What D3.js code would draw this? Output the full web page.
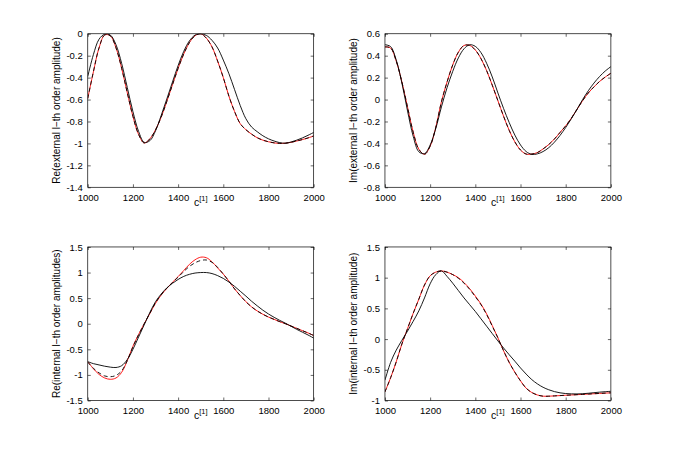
<!DOCTYPE html>
<html>
<head>
<meta charset="utf-8">
<script src="https://cdn.jsdelivr.net/npm/d3@7"></script>
<style>
  body { margin: 0; background: #fff; }
  svg { display: block; }
  text { font-family: "Liberation Sans", Arial, Helvetica, sans-serif; fill: #000; }
</style>
</head>
<body>
<svg id="chart" width="675" height="450"></svg>
<script>
// x grid shared by every curve
const cValues = [1000, 1025, 1050, 1075, 1100, 1125, 1150, 1175, 1200, 1225,
                 1250, 1275, 1300, 1325, 1350, 1375, 1400, 1425, 1450, 1475,
                 1500, 1525, 1550, 1575, 1600, 1625, 1650, 1675, 1700, 1725,
                 1750, 1775, 1800, 1825, 1850, 1875, 1900, 1925, 1950, 1975, 2000];
const xTicks = [1000, 1200, 1400, 1600, 1800, 2000];

// Re(external)
const reExtBlack = [-0.39, -0.19, -0.05, -0.004, -0.012, -0.10, -0.27, -0.49, -0.71, -0.89,
                    -0.99, -0.975, -0.885, -0.745, -0.595, -0.44, -0.29, -0.16, -0.065, -0.012,
                    -0.001, -0.015, -0.06, -0.13, -0.24, -0.365, -0.51, -0.655, -0.775, -0.85,
                    -0.893, -0.93, -0.958, -0.978, -0.993, -0.998, -0.987, -0.97, -0.95, -0.926, -0.9];
const reExtRed = [-0.59, -0.347, -0.129, -0.011, -0.019, -0.128, -0.314, -0.538, -0.753, -0.918,
                  -0.996, -0.958, -0.876, -0.76, -0.617, -0.465, -0.316, -0.184, -0.081, -0.018,
                  0, -0.04, -0.12, -0.25, -0.40, -0.57, -0.71, -0.82, -0.875, -0.915,
                  -0.948, -0.97, -0.985, -0.995, -1.0, -0.998, -0.99, -0.978, -0.965, -0.95, -0.932];
const reExtDash = [-0.59, -0.347, -0.129, -0.011, -0.019, -0.128, -0.314, -0.538, -0.753, -0.918,
                   -0.996, -0.958, -0.876, -0.76, -0.617, -0.465, -0.316, -0.184, -0.081, -0.018,
                   0, -0.04, -0.12, -0.25, -0.40, -0.57, -0.71, -0.82, -0.875, -0.915,
                   -0.948, -0.97, -0.985, -0.995, -1.0, -0.998, -0.99, -0.978, -0.965, -0.95, -0.932];
const reExtTicks = [-1.4, -1.2, -1, -0.8, -0.6, -0.4, -0.2, 0];

// Im(external)
const imExtBlack = [0.50, 0.483, 0.36, 0.151, -0.104, -0.335, -0.476, -0.493, -0.415, -0.264,
                    -0.067, 0.109, 0.257, 0.380, 0.463, 0.4995, 0.485, 0.428, 0.331, 0.206,
                    0.06, -0.081, -0.21, -0.324, -0.414, -0.474, -0.4996, -0.495, -0.474, -0.439,
                    -0.389, -0.327, -0.255, -0.175, -0.089, 0.0, 0.08, 0.15, 0.21, 0.26, 0.30];
const imExtRed = [0.48, 0.47, 0.35, 0.16, -0.069, -0.297, -0.453, -0.499, -0.426, -0.253,
                  -0.02, 0.161, 0.316, 0.432, 0.493, 0.494, 0.452, 0.373, 0.264, 0.131,
                  -0.011, -0.152, -0.281, -0.386, -0.46, -0.497, -0.497, -0.483, -0.45, -0.41,
                  -0.36, -0.30, -0.24, -0.17, -0.09, -0.01, 0.06, 0.115, 0.165, 0.205, 0.24];
const imExtDash = [0.48, 0.47, 0.35, 0.16, -0.069, -0.297, -0.453, -0.499, -0.426, -0.253,
                   -0.02, 0.161, 0.316, 0.432, 0.493, 0.494, 0.452, 0.373, 0.264, 0.131,
                   -0.011, -0.152, -0.281, -0.386, -0.46, -0.497, -0.497, -0.483, -0.45, -0.41,
                   -0.36, -0.30, -0.24, -0.17, -0.09, -0.01, 0.06, 0.115, 0.165, 0.205, 0.24];
const imExtTicks = [-0.8, -0.6, -0.4, -0.2, 0, 0.2, 0.4, 0.6];

// Re(internal)
const reIntBlack = [-0.74, -0.78, -0.805, -0.83, -0.848, -0.855, -0.82, -0.70, -0.50, -0.26,
                    -0.02, 0.22, 0.43, 0.58, 0.70, 0.79, 0.865, 0.925, 0.965, 0.99,
                    1.0, 1.0, 0.98, 0.94, 0.885, 0.815, 0.73, 0.635, 0.54, 0.44,
                    0.35, 0.265, 0.19, 0.125, 0.065, 0.01, -0.05, -0.11, -0.165, -0.22, -0.28];
const reIntRed = [-0.74, -0.88, -0.99, -1.06, -1.086, -1.06, -0.95, -0.72, -0.44, -0.21,
                  0.0, 0.20, 0.40, 0.56, 0.69, 0.81, 0.92, 1.04, 1.16, 1.25,
                  1.30, 1.29, 1.21, 1.09, 0.97, 0.83, 0.68, 0.55, 0.43, 0.33,
                  0.25, 0.185, 0.13, 0.085, 0.04, 0.0, -0.045, -0.09, -0.135, -0.18, -0.23];
const reIntDash = [-0.75, -0.87, -0.96, -1.02, -1.035, -1.01, -0.92, -0.72, -0.45, -0.215,
                   0.0, 0.205, 0.41, 0.565, 0.695, 0.805, 0.91, 1.02, 1.12, 1.19,
                   1.235, 1.245, 1.20, 1.10, 0.97, 0.83, 0.68, 0.55, 0.43, 0.33,
                   0.25, 0.185, 0.13, 0.085, 0.04, 0.0, -0.045, -0.09, -0.135, -0.18, -0.23];
const reIntTicks = [-1.5, -1, -0.5, 0, 0.5, 1, 1.5];

// Im(internal)
const imIntBlack = [-0.67, -0.38, -0.18, -0.02, 0.13, 0.29, 0.46, 0.67, 0.90, 1.05,
                    1.11, 1.02, 0.91, 0.79, 0.67, 0.56, 0.45, 0.33, 0.21, 0.09,
                    -0.03, -0.145, -0.255, -0.36, -0.47, -0.57, -0.66, -0.73, -0.785, -0.825,
                    -0.855, -0.875, -0.887, -0.892, -0.893, -0.89, -0.882, -0.873, -0.864, -0.857, -0.85];
const imIntRed = [-0.86, -0.63, -0.37, -0.08, 0.17, 0.42, 0.65, 0.88, 1.03, 1.09,
                  1.11, 1.09, 1.05, 1.0, 0.92, 0.82, 0.70, 0.57, 0.41, 0.22,
                  0.02, -0.19, -0.38, -0.54, -0.68, -0.80, -0.87, -0.91, -0.93, -0.93,
                  -0.925, -0.92, -0.915, -0.91, -0.905, -0.90, -0.895, -0.89, -0.885, -0.88, -0.875];
const imIntDash = [-0.86, -0.63, -0.37, -0.08, 0.17, 0.42, 0.65, 0.88, 1.03, 1.09,
                   1.11, 1.09, 1.05, 0.99, 0.91, 0.81, 0.69, 0.56, 0.40, 0.21,
                   0.02, -0.19, -0.38, -0.54, -0.68, -0.80, -0.87, -0.91, -0.93, -0.93,
                   -0.925, -0.92, -0.915, -0.91, -0.905, -0.90, -0.895, -0.89, -0.885, -0.88, -0.875];
const imIntTicks = [-1, -0.5, 0, 0.5, 1, 1.5];

const W = 675, H = 450;
const svg = d3.select("#chart");

// matlab style subplot boxes
const colLeft = [0.13 * W, 0.5703 * W];
const rowTop = [H * (1 - 0.5838 - 0.3412), H * (1 - 0.11 - 0.3412)];
const pw = 0.3347 * W, ph = 0.3412 * H;

const panels = [
    {col: 0, row: 0, label: "Re(external l\u2212th order amplitude)", yDomain: [-1.4, 0], yTicks: reExtTicks,
     black: reExtBlack, red: reExtRed, dash: reExtDash},
    {col: 1, row: 0, label: "Im(external l\u2212th order amplitude)", yDomain: [-0.8, 0.6], yTicks: imExtTicks,
     black: imExtBlack, red: imExtRed, dash: imExtDash},
    {col: 0, row: 1, label: "Re(internal l\u2212th order amplitudes)", yDomain: [-1.5, 1.5], yTicks: reIntTicks,
     black: reIntBlack, red: reIntRed, dash: reIntDash},
    {col: 1, row: 1, label: "Im(internal l\u2212th order amplitude)", yDomain: [-1, 1.5], yTicks: imIntTicks,
     black: imIntBlack, red: imIntRed, dash: imIntDash}
];

// matlab prints tick labels with a plain hyphen
const fmt = d => String(+d.toFixed(2));

panels.forEach((p, k) => {
    const g = svg.append("g")
        .attr("transform", `translate(${colLeft[p.col]},${rowTop[p.row]})`);

    const x = d3.scaleLinear().domain([1000, 2000]).range([0, pw]);
    const y = d3.scaleLinear().domain(p.yDomain).range([ph, 0]);

    g.append("clipPath").attr("id", "clip" + k)
        .append("rect").attr("width", pw).attr("height", ph);

    const line = d3.line()
        .x((d, i) => x(cValues[i]))
        .y(d => y(d))
        .curve(d3.curveCatmullRom.alpha(0.5));

    const plot = g.append("g").attr("clip-path", `url(#clip${k})`);
    plot.append("path").datum(p.red)
        .attr("d", line).attr("fill", "none")
        .attr("stroke", "#ff0000").attr("stroke-width", 0.9);
    plot.append("path").datum(p.dash)
        .attr("d", line).attr("fill", "none")
        .attr("stroke", "#000").attr("stroke-width", 0.9)
        .attr("stroke-dasharray", "4,3");
    plot.append("path").datum(p.black)
        .attr("d", line).attr("fill", "none")
        .attr("stroke", "#000").attr("stroke-width", 0.9);

    // axes, ticks pointing inward
    const ax = [
        {a: d3.axisBottom(x).tickValues(xTicks).tickFormat(fmt), t: `translate(0,${ph})`, pad: 7},
        {a: d3.axisTop(x).tickValues(xTicks).tickFormat(""), t: "translate(0,0)", pad: 5},
        {a: d3.axisLeft(y).tickValues(p.yTicks).tickFormat(fmt), t: "translate(0,0)", pad: 5},
        {a: d3.axisRight(y).tickValues(p.yTicks).tickFormat(""), t: `translate(${pw},0)`, pad: 5}
    ];
    ax.forEach(o => {
        const ag = g.append("g").attr("transform", o.t)
            .call(o.a.tickSize(-3).tickSizeOuter(0).tickPadding(o.pad));
        ag.select(".domain").remove();
        ag.selectAll("line").attr("stroke", "#000").attr("stroke-width", 0.6);
        ag.selectAll("text").attr("font-size", 9.5).attr("fill", "#000")
            .attr("font-family", "'Liberation Sans', Arial, sans-serif");
    });

    g.append("rect").attr("width", pw).attr("height", ph)
        .attr("fill", "none").attr("stroke", "#000").attr("stroke-width", 0.7);

    // y label
    g.append("text")
        .attr("transform", `translate(-27.8,${ph / 2}) rotate(-90)`)
        .attr("text-anchor", "middle")
        .attr("font-size", 10)
        .text(p.label);

    // x label c^[1]
    const xl = g.append("text")
        .attr("x", pw / 2).attr("y", ph + 18.5)
        .attr("text-anchor", "middle")
        .attr("font-size", 10.5);
    xl.append("tspan").text("c");
    xl.append("tspan").attr("font-size", 7.5).attr("dy", -5).text("[1]");
});
</script>
</body>
</html>
